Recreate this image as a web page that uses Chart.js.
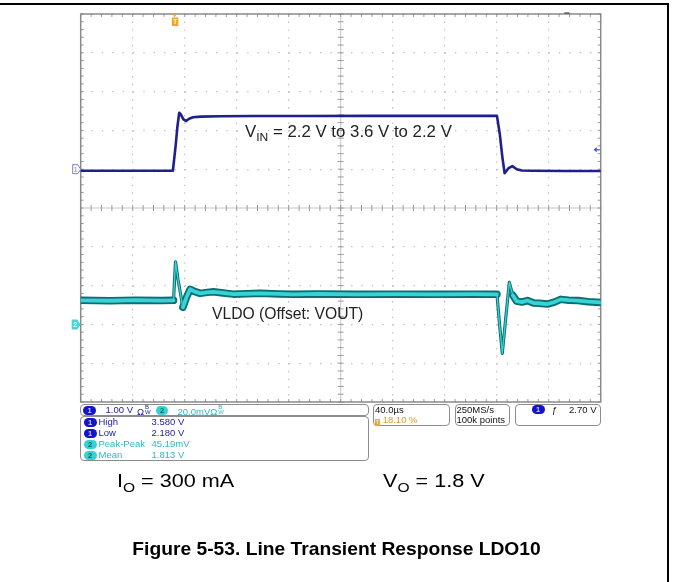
<!DOCTYPE html>
<html>
<head>
<meta charset="utf-8">
<script src="https://cdn.jsdelivr.net/npm/chart.js@4/dist/chart.umd.min.js"></script>
<style>
  html, body { margin: 0; padding: 0; background: #fff; }
  #page { position: relative; width: 673px; height: 582px; overflow: hidden; background: #fff; }
  #c { position: absolute; left: 0; top: 0; }
  .abs { position: absolute; white-space: nowrap; }
  .box { position: absolute; border: 1px solid #8c8c8c; border-radius: 4px; box-sizing: border-box; background: #fff; }
  .t9 { font-family: "Liberation Sans", Arial, sans-serif; font-size: 9.5px; line-height: 10px; }
  .badge { position: absolute; height: 9px; border-radius: 5px; font: bold 7.5px/9px "Liberation Sans", Arial, sans-serif; text-align: center; }
  .b1 { background: #1414c8; color: #c8c8ff; }
  .b2 { background: #34d2d2; color: #0a5a5a; }
  .c1 { color: #1c1ca0; }
  .c2 { color: #2fb8c2; }
  .ann { font-family: "Liberation Sans", Arial, sans-serif; color: #222; transform-origin: 0 50%; }
  .ann sub { font-size: 0.72em; vertical-align: -0.35em; line-height: 0; }
  .bw { display: inline-block; font-size: 6px; line-height: 5px; vertical-align: 1px; margin-left: 1px; }
</style>
</head>
<body>
<div id="page">
  <canvas id="c" width="673" height="582"></canvas>

  <!-- page frame -->
  <div class="abs" style="left:0;top:3px;width:669px;height:2px;background:#000;"></div>
  <div class="abs" style="left:667px;top:3px;width:1.5px;height:579px;background:#000;"></div>

  <!-- waveform annotations -->
  <div class="abs ann" style="left:245px;top:124px;font-size:16px;line-height:16px;transform:scaleX(1.05);">V<sub>IN</sub> = 2.2 V to 3.6 V to 2.2 V</div>
  <div class="abs ann" style="left:212px;top:306px;font-size:16px;line-height:16px;transform:scaleX(0.98);">VLDO (Offset: VOUT)</div>

  <!-- scope readout panel -->
  <div class="box" style="left:80px;top:404px;width:289px;height:12px;"></div>
  <div class="box" style="left:80px;top:416px;width:289px;height:45px;"></div>
  <div class="box" style="left:373px;top:404px;width:77px;height:22px;"></div>
  <div class="box" style="left:455px;top:404px;width:55px;height:22px;"></div>
  <div class="box" style="left:515px;top:404px;width:86px;height:22px;"></div>
  <div id="panel"></div>

  <!-- captions -->
  <div class="abs ann" id="capI" style="left:117px;top:472px;font-size:18px;line-height:18px;color:#000;transform:scaleX(1.2);"></div>
  <div class="abs ann" id="capV" style="left:383px;top:472px;font-size:18px;line-height:18px;color:#000;transform:scaleX(1.2);"></div>
  <div class="abs ann" id="title" style="left:0;width:673px;text-align:center;top:539px;font-size:18.5px;line-height:19px;font-weight:bold;color:#000;transform-origin:336px 50%;transform:scaleX(1.04);"></div>
</div>

<script>
// ---------------- data ----------------
// Channel 1 : VIN (volts) vs time (µs, 0 = trigger)
const ch1Time = [-72.4, -40, -10, -1.5, 0.5, 2.0, 3.4, 4.5, 6.5, 8.7, 11, 14, 20, 35, 60, 100, 150, 200, 247.8, 250, 252, 253.7, 256.5, 259.6, 263, 267, 275, 300, 327.6];
const ch1Volts = [2.16, 2.16, 2.16, 2.16, 2.76, 3.30, 3.655, 3.62, 3.49, 3.44, 3.50, 3.54, 3.555, 3.565, 3.57, 3.57, 3.575, 3.575, 3.575, 3.10, 2.50, 2.095, 2.22, 2.28, 2.20, 2.165, 2.16, 2.155, 2.155];

// Channel 2 : VLDO (volts) vs time (µs)
const ch2Time = [-72.4, -50, -30, -10, -1.0, 0.5, 2.5, 6.2, 9.0, 11.8, 15, 19.5, 25, 29.7, 37, 45, 55, 65.7, 80, 91.4, 110, 140, 170, 200, 230, 247.8, 249.8, 251.9, 254.5, 257.3, 260, 262.9, 267, 271.2, 276, 280, 286.6, 292, 296.8, 303, 310, 318, 327.6];
const ch2Volts = [1.8124, 1.8122, 1.8125, 1.8123, 1.8124, 1.8323, 1.8230, 1.8088, 1.8140, 1.8181, 1.8170, 1.8160, 1.8165, 1.8168, 1.8162, 1.8156, 1.8158, 1.8160, 1.8157, 1.8155, 1.8157, 1.8155, 1.8156, 1.8155, 1.8156, 1.8155, 1.8000, 1.7851, 1.8030, 1.8217, 1.8150, 1.8120, 1.8115, 1.8123, 1.8110, 1.8109, 1.8105, 1.8115, 1.8129, 1.8125, 1.8123, 1.8117, 1.8113];

// Scope settings
const timePerDiv = 40;          // µs/div
const triggerPosPct = 18.10;    // % of record
const ch1VoltsPerDiv = 1.00;    // V/div
const ch1Offset = 2.2;          // V at marker
const ch1PosDiv = 1;            // marker position (div)
const ch2VoltsPerDiv = 0.020;   // V/div
const ch2Offset = 1.8;          // V at marker
const ch2PosDiv = -3;           // marker position (div)
const triggerLevel = 2.70;      // V

// Readout texts
const measLabels = ['High', 'Low', 'Peak-Peak', 'Mean'];
const measChannels = [1, 1, 2, 2];
const measValues = ['3.580 V', '2.180 V', '45.19mV', '1.813 V'];

// ---------------- derived axis ranges ----------------
const tMin = -timePerDiv * 10 * triggerPosPct / 100;
const tMax = tMin + timePerDiv * 10;
const y1Min = ch1Offset - (5 + ch1PosDiv) * ch1VoltsPerDiv;
const y1Max = ch1Offset + (5 - ch1PosDiv) * ch1VoltsPerDiv;
const y2Min = ch2Offset - (5 + ch2PosDiv) * ch2VoltsPerDiv;
const y2Max = ch2Offset + (5 - ch2PosDiv) * ch2VoltsPerDiv;

const pts = (xs, ys) => xs.map((x, i) => ({ x, y: ys[i] }));

function steep(ctx) {
  const dx = Math.abs(ctx.p1.x - ctx.p0.x);
  const dy = Math.abs(ctx.p1.y - ctx.p0.y);
  return dy / Math.max(dx, 0.1) > 3.2;
}

const line = (ctx, x1, y1, x2, y2) => { ctx.beginPath(); ctx.moveTo(x1, y1); ctx.lineTo(x2, y2); ctx.stroke(); };

const scopePlugin = {
  id: 'scope',
  beforeDatasetsDraw(chart) {
    const { ctx, chartArea: a, scales } = chart;
    const gx = scales.gx, gy = scales.gy;
    const cx = gx.getPixelForValue(5), cy = gy.getPixelForValue(0);
    ctx.save();
    ctx.lineWidth = 1;
    ctx.strokeStyle = '#c6c6c6';
    line(ctx, cx, a.top, cx, a.bottom);
    line(ctx, a.left, cy, a.right, cy);
    ctx.strokeStyle = '#9a9a9a';
    for (let i = 0; i <= 50; i++) {
      const x = gx.getPixelForValue(i / 5);
      line(ctx, x, a.top, x, a.top + 3);
      line(ctx, x, a.bottom - 3, x, a.bottom);
      line(ctx, x, cy - 3, x, cy + 3);
    }
    for (let j = 0; j <= 50; j++) {
      const y = gy.getPixelForValue(-5 + j / 5);
      line(ctx, a.left, y, a.left + 3, y);
      line(ctx, a.right - 3, y, a.right, y);
      line(ctx, cx - 3, y, cx + 3, y);
    }
    ctx.strokeStyle = '#8a8a8a';
    ctx.lineWidth = 1.5;
    ctx.strokeRect(a.left, a.top, a.width, a.height);
    ctx.restore();
  },
  afterDatasetsDraw(chart) {
    const { ctx, chartArea: a, scales } = chart;
    ctx.save();
    // trigger position marker (orange T)
    const tx = scales.x.getPixelForValue(0);
    ctx.fillStyle = '#eda52a';
    ctx.beginPath();
    ctx.moveTo(tx - 2, a.top); ctx.lineTo(tx + 2, a.top); ctx.lineTo(tx, a.top + 3); ctx.closePath(); ctx.fill();
    ctx.fillRect(tx - 3, a.top + 3.5, 6.5, 8.5);
    ctx.fillStyle = '#fff6e0';
    ctx.font = 'bold 7px "Liberation Sans", Arial';
    ctx.textAlign = 'center'; ctx.textBaseline = 'middle';
    ctx.fillText('T', tx + 0.3, a.top + 8);

    // channel 1 marker (outlined)
    const m1 = scales.y1.getPixelForValue(ch1Offset);
    ctx.beginPath();
    ctx.moveTo(a.left - 8, m1 - 4.5); ctx.lineTo(a.left - 3, m1 - 4.5); ctx.lineTo(a.left, m1);
    ctx.lineTo(a.left - 3, m1 + 4.5); ctx.lineTo(a.left - 8, m1 + 4.5); ctx.closePath();
    ctx.fillStyle = '#ffffff'; ctx.fill();
    ctx.strokeStyle = '#7a7ad8'; ctx.lineWidth = 1; ctx.stroke();
    ctx.fillStyle = '#7a7ad8'; ctx.font = '7px "Liberation Sans", Arial';
    ctx.fillText('1', a.left - 5, m1 + 0.5);

    // channel 2 marker (filled)
    const m2 = scales.y2.getPixelForValue(ch2Offset);
    ctx.beginPath();
    ctx.moveTo(a.left - 9, m2 - 5); ctx.lineTo(a.left - 3.5, m2 - 5); ctx.lineTo(a.left, m2);
    ctx.lineTo(a.left - 3.5, m2 + 5); ctx.lineTo(a.left - 9, m2 + 5); ctx.closePath();
    ctx.fillStyle = '#45d6d8'; ctx.fill();
    ctx.fillStyle = '#e8ffff'; ctx.font = 'bold 7px "Liberation Sans", Arial';
    ctx.fillText('2', a.left - 5.5, m2 + 0.5);

    // trigger level arrow (right edge)
    const tl = scales.y1.getPixelForValue(triggerLevel);
    ctx.fillStyle = '#2a46d0'; ctx.strokeStyle = '#2a46d0'; ctx.lineWidth = 1.2;
    ctx.beginPath(); ctx.moveTo(a.right - 7, tl); ctx.lineTo(a.right - 4, tl - 2.5); ctx.lineTo(a.right - 4, tl + 2.5); ctx.closePath(); ctx.fill();
    line(ctx, a.right - 4, tl, a.right - 1, tl);

    // horizontal position indicator at top
    ctx.strokeStyle = '#444'; ctx.lineWidth = 1.2;
    line(ctx, scales.gx.getPixelForValue(9.3), a.top - 1, scales.gx.getPixelForValue(9.4), a.top - 1);
    ctx.restore();
  }
};

const chart = new Chart(document.getElementById('c'), {
  type: 'line',
  data: {
    datasets: [
      {
        label: 'VIN',
        data: pts(ch1Time, ch1Volts),
        xAxisID: 'x', yAxisID: 'y1',
        borderColor: '#1f1f8e', borderWidth: 2.6,
        pointRadius: 0, tension: 0, fill: false,
        borderJoinStyle: 'round', borderCapStyle: 'round',
        order: 1
      },
      {
        label: 'VLDO envelope',
        data: pts(ch2Time, ch2Volts),
        xAxisID: 'x', yAxisID: 'y2',
        borderColor: '#0f6d70', borderWidth: 7.5,
        pointRadius: 0, tension: 0, fill: false,
        borderJoinStyle: 'round', borderCapStyle: 'round',
        segment: { borderWidth: ctx => steep(ctx) ? 3.2 : 7.5 },
        order: 3
      },
      {
        label: 'VLDO',
        data: pts(ch2Time, ch2Volts),
        xAxisID: 'x', yAxisID: 'y2',
        borderColor: '#36d4d6', borderWidth: 3.8,
        pointRadius: 0, tension: 0, fill: false,
        borderJoinStyle: 'round', borderCapStyle: 'round',
        segment: { borderWidth: ctx => steep(ctx) ? 1.3 : 3.8 },
        order: 2
      }
    ]
  },
  options: {
    responsive: false,
    animation: false,
    events: [],
    layout: { padding: { left: 80.7, right: 72.3, top: 14, bottom: 180 } },
    plugins: { legend: { display: false }, tooltip: { enabled: false } },
    scales: {
      x: { type: 'linear', min: tMin, max: tMax, display: false },
      y1: { type: 'linear', min: y1Min, max: y1Max, display: false },
      y2: { type: 'linear', min: y2Min, max: y2Max, display: false },
      gx: {
        type: 'linear', axis: 'x', position: 'bottom', min: 0, max: 10,
        ticks: { display: false, stepSize: 1 },
        grid: { drawTicks: false, lineWidth: 1.2, color: c => (c.tick && c.tick.value === 5) ? 'rgba(0,0,0,0)' : '#bcbcbc' },
        border: { display: false, dash: [1.3, 6.46] }
      },
      gy: {
        type: 'linear', axis: 'y', position: 'left', min: -5, max: 5,
        ticks: { display: false, stepSize: 1 },
        grid: { drawTicks: false, lineWidth: 1.2, color: c => (c.tick && c.tick.value === 0) ? 'rgba(0,0,0,0)' : '#bcbcbc' },
        border: { display: false, dash: [1.3, 9.09] }
      }
    }
  },
  plugins: [scopePlugin]
});

// ---------------- readout panel text ----------------
const panel = document.getElementById('panel');
function add(html, cls, left, cy, extra) {
  const d = document.createElement('div');
  d.className = 'abs ' + cls;
  d.style.left = left + 'px';
  d.style.top = (cy - 5) + 'px';
  if (extra) d.style.cssText += extra;
  d.innerHTML = html;
  panel.appendChild(d);
  return d;
}
function badge(ch, left, cy, w) {
  const d = document.createElement('div');
  d.className = 'badge ' + (ch === 1 ? 'b1' : 'b2');
  d.style.left = left + 'px'; d.style.top = (cy - 4.5) + 'px'; d.style.width = (w || 13) + 'px';
  d.textContent = String(ch);
  panel.appendChild(d);
}
const bwSym = 'Ω<span class="bw">B<br>W</span>';
badge(1, 83, 410);
add(ch1VoltsPerDiv.toFixed(2) + ' V', 't9 c1', 105.5, 410);
add(bwSym, 't9 c1', 137, 410);
badge(2, 156, 410, 12);
add((ch2VoltsPerDiv * 1000).toFixed(1) + 'mV' + bwSym, 't9 c2', 177.5, 410);

const rowY = [422.3, 433.1, 444.1, 455];
measLabels.forEach((lab, i) => {
  const ch = measChannels[i];
  badge(ch, 83.5, rowY[i]);
  add(lab, 't9 ' + (ch === 1 ? 'c1' : 'c2'), 98.5, rowY[i]);
  add(measValues[i], 't9 ' + (ch === 1 ? 'c1' : 'c2'), 151.5, rowY[i]);
});

add(timePerDiv.toFixed(1) + 'µs', 't9', 375, 410, 'color:#111;');
add('<span style="display:inline-block;width:5px;height:7px;background:#eda52a;color:#fff;font-size:6px;line-height:7px;text-align:center;vertical-align:-1px;">T</span> ' + triggerPosPct.toFixed(2) + ' %', 't9', 375, 420, 'color:#e49a20;');
add('250MS/s', 't9', 456.5, 410, 'color:#111;');
add('100k points', 't9', 456.5, 420, 'color:#111;');
badge(1, 531.5, 409.5, 13);
add('<i>ƒ</i>', 't9', 551.5, 410, 'color:#111;');
add(triggerLevel.toFixed(2) + ' V', 't9', 569, 410, 'color:#111;');

// ---------------- captions ----------------
document.getElementById('capI').innerHTML = 'I<sub>O</sub> = 300 mA';
document.getElementById('capV').innerHTML = 'V<sub>O</sub> = 1.8 V';
document.getElementById('title').textContent = 'Figure 5-53. Line Transient Response LDO10';
</script>
</body>
</html>
